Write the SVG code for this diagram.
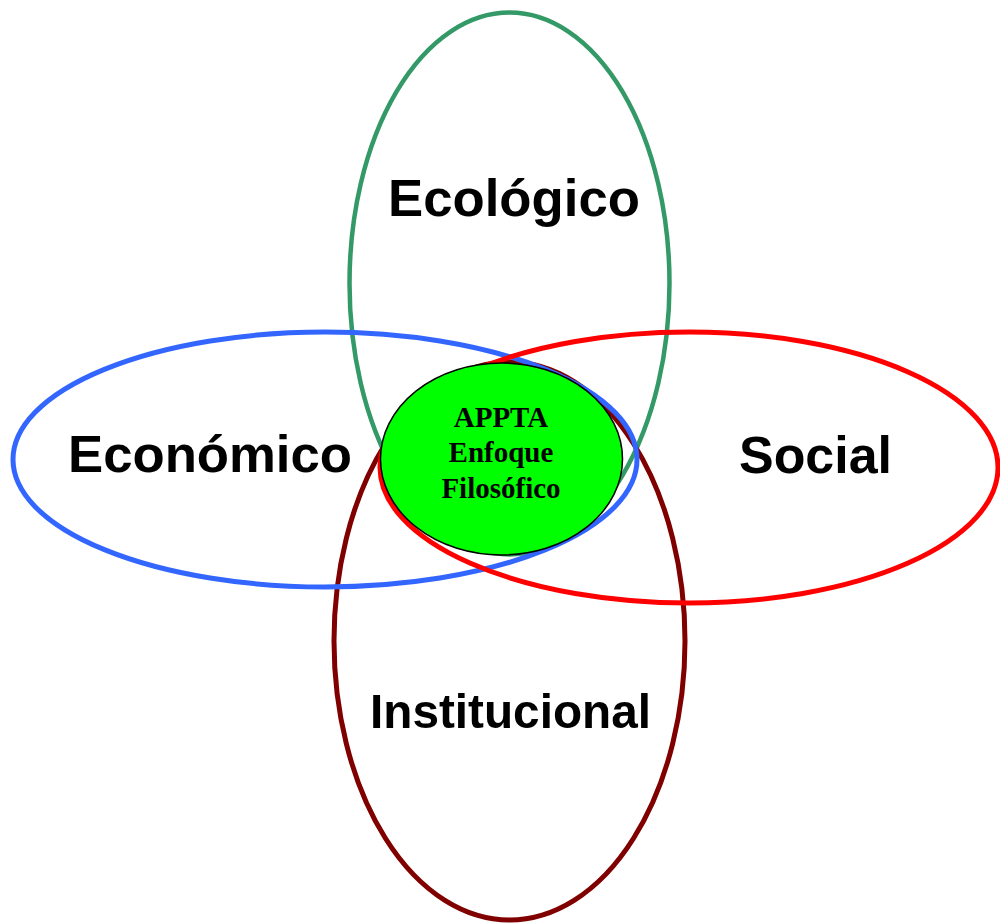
<svg xmlns="http://www.w3.org/2000/svg" width="1000" height="924" viewBox="0 0 1000 924">
  <style>
    .ring { fill: none; }
    .lbl { font-family: "Liberation Sans", Arial, sans-serif; font-weight: bold; fill: #000; }
    .core { font-family: "Liberation Serif", "Times New Roman", serif; font-weight: bold; font-size: 29px; fill: #000; text-anchor: middle; }
  </style>
  <rect width="1000" height="924" fill="#fff"/>
  <g id="ecologico">
    <ellipse class="ring" cx="509.5" cy="283.5" rx="160" ry="271" stroke="#339966" stroke-width="4.5"/>
    <text class="lbl" x="388" y="216" font-size="52" textLength="252" lengthAdjust="spacingAndGlyphs">Ecológico</text>
  </g>
  <g id="institucional">
    <ellipse class="ring" cx="509.5" cy="641" rx="175.5" ry="279" stroke="#800000" stroke-width="5"/>
    <text class="lbl" x="370" y="728" font-size="49" textLength="281" lengthAdjust="spacingAndGlyphs">Institucional</text>
  </g>
  <g id="economico">
    <ellipse class="ring" cx="325" cy="459.5" rx="312" ry="127.5" stroke="#3366ff" stroke-width="5"/>
    <text class="lbl" x="68" y="472" font-size="52" textLength="284" lengthAdjust="spacingAndGlyphs">Económico</text>
  </g>
  <g id="social">
    <ellipse class="ring" cx="689" cy="467.5" rx="309" ry="135.5" stroke="#ff0000" stroke-width="5"/>
    <text class="lbl" x="739" y="473" font-size="52" textLength="153" lengthAdjust="spacingAndGlyphs">Social</text>
  </g>
  <g id="appta">
    <ellipse cx="501.5" cy="459" rx="121" ry="96" fill="#00ff00" stroke="#000" stroke-width="1.5"/>
    <text class="core" x="501" y="427">APPTA</text>
    <text class="core" x="501" y="462">Enfoque</text>
    <text class="core" x="501" y="498">Filosófico</text>
  </g>
  <g id="connectors"></g>
</svg>
